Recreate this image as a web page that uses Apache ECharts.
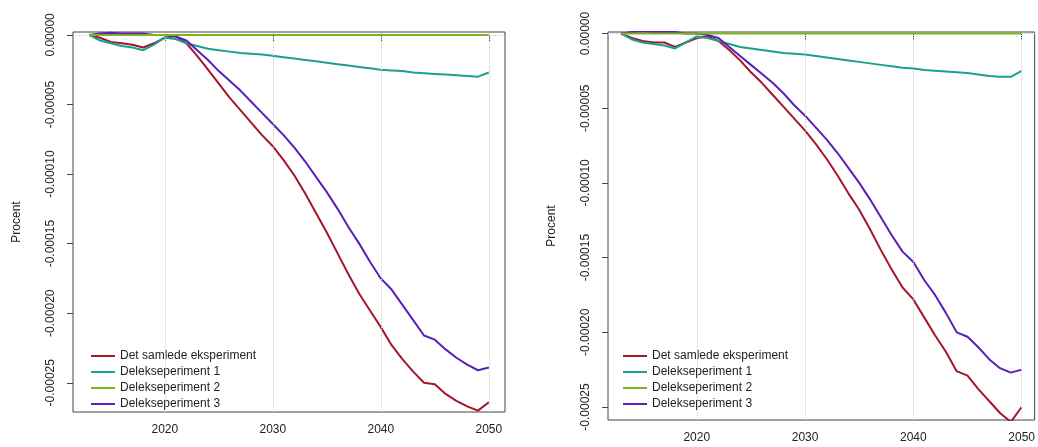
<!DOCTYPE html>
<html><head><meta charset="utf-8">
<script src="https://cdn.jsdelivr.net/npm/echarts@6/dist/echarts.min.js"></script>
<style>html,body{margin:0;padding:0;background:#fff}#c{width:1038px;height:447px}</style>
</head><body><div id="c"></div>
<script>
const years = [];
for (let y = 2013; y <= 2050; y++) years.push(y);
const legendNames = ['Det samlede eksperiment','Delekseperiment 1','Delekseperiment 2','Delekseperiment 3'];
// values in 1e-5 percent
const leftTotal = [0,-0.2,-0.5,-0.6,-0.7,-0.9,-0.6,-0.2,-0.1,-0.6,-1.5,-2.5,-3.5,-4.5,-5.4,-6.3,-7.2,-8.0,-9.0,-10.1,-11.4,-12.8,-14.2,-15.7,-17.2,-18.6,-19.8,-21.0,-22.3,-23.3,-24.2,-25.0,-25.1,-25.8,-26.3,-26.7,-27.0,-26.4];
const leftD1 = [0,-0.4,-0.6,-0.8,-0.9,-1.1,-0.7,-0.2,-0.3,-0.6,-0.8,-1.0,-1.1,-1.2,-1.3,-1.35,-1.4,-1.5,-1.6,-1.7,-1.8,-1.9,-2.0,-2.1,-2.2,-2.3,-2.4,-2.5,-2.55,-2.6,-2.7,-2.75,-2.8,-2.85,-2.9,-2.95,-3.0,-2.7];
const leftD2 = [0,0,0,0,0,0,0,0,0,0,0,0,0,0,0,0,0,0,0,0,0,0,0,0,0,0,0,0,0,0,0,0,0,0,0,0,0,0];
const leftD3 = [0,0.1,0.15,0.1,0.1,0.1,0,0,-0.1,-0.4,-1.1,-1.8,-2.6,-3.3,-4.0,-4.8,-5.6,-6.4,-7.2,-8.1,-9.1,-10.2,-11.3,-12.5,-13.8,-15.0,-16.3,-17.5,-18.3,-19.4,-20.5,-21.6,-21.9,-22.6,-23.2,-23.7,-24.1,-23.9];
const rightTotal = [0,-0.3,-0.5,-0.6,-0.6,-0.9,-0.6,-0.3,-0.2,-0.5,-1.1,-1.8,-2.6,-3.3,-4.1,-4.9,-5.7,-6.5,-7.4,-8.4,-9.5,-10.7,-11.8,-13.1,-14.5,-15.8,-17.0,-17.8,-19.0,-20.2,-21.3,-22.6,-22.9,-23.8,-24.6,-25.4,-26.0,-25.0];
const rightD1 = [0,-0.4,-0.6,-0.7,-0.8,-1.0,-0.6,-0.2,-0.3,-0.5,-0.7,-0.9,-1.0,-1.1,-1.2,-1.3,-1.35,-1.4,-1.5,-1.6,-1.7,-1.8,-1.9,-2.0,-2.1,-2.2,-2.3,-2.35,-2.45,-2.5,-2.55,-2.6,-2.65,-2.75,-2.85,-2.9,-2.9,-2.5];
const rightD2 = [0,0,0,0,0,0,0,0,0,0,0,0,0,0,0,0,0,0,0,0,0,0,0,0,0,0,0,0,0,0,0,0,0,0,0,0,0,0];
const rightD3 = [0,0.1,0.15,0.1,0.1,0.1,0,0,-0.1,-0.3,-0.9,-1.5,-2.1,-2.7,-3.3,-4.0,-4.8,-5.5,-6.3,-7.1,-8.0,-9.0,-10.0,-11.1,-12.3,-13.5,-14.6,-15.3,-16.5,-17.5,-18.7,-20.0,-20.3,-21.0,-21.8,-22.4,-22.7,-22.5];
const xTicks = [2020,2030,2040,2050];
const yTicks = [0,-0.00005,-0.0001,-0.00015,-0.0002,-0.00025];
const colors = ['#a3162b','#1aa08c','#7fb21c','#5a1fb8'];

const panels = [
  {data:[leftTotal,leftD1,leftD2,leftD3], grid:{left:73,top:32,width:432,height:380}, x:[2011.5,2051.5], y:[-0.000271,0.0000021], legendLeft:86},
  {data:[rightTotal,rightD1,rightD2,rightD3], grid:{left:608,top:32,width:427,height:388}, x:[2011.8,2051.2], y:[-0.0002587,0.000001], legendLeft:618}
];
const font = 'Liberation Sans, Arial, sans-serif';
const opt = {animation:false, grid:[], xAxis:[], yAxis:[], series:[], legend:[]};
panels.forEach((p,i)=>{
  opt.grid.push(Object.assign({show:true,borderColor:'#444',borderWidth:1,backgroundColor:'transparent'},p.grid));
  opt.xAxis.push({type:'value',gridIndex:i,min:p.x[0],max:p.x[1],splitLine:{show:false},
    axisLine:{show:false},axisTick:{show:true,length:6,customValues:xTicks,lineStyle:{color:'#444'}},
    axisLabel:{customValues:xTicks,color:'#222',fontFamily:font,fontSize:12,margin:12,formatter:v=>String(v)}});
  opt.yAxis.push({type:'value',gridIndex:i,min:p.y[0],max:p.y[1],splitLine:{show:false},
    axisLine:{show:false},axisTick:{show:true,length:6,customValues:yTicks,lineStyle:{color:'#444'}},
    axisLabel:{customValues:yTicks,rotate:90,color:'#222',fontFamily:font,fontSize:12,margin:16,formatter:v=>Math.abs(v)<1e-12?'0.00000':v.toFixed(5)},
    name:'Procent',nameLocation:'middle',nameGap:50,nameTextStyle:{color:'#222',fontFamily:font,fontSize:12}});
  p.data.forEach((arr,k)=>{
    const s = {type:'line',name:legendNames[k],xAxisIndex:i,yAxisIndex:i,showSymbol:false,
      data:years.map((y,j)=>[y,arr[j]*1e-5]),lineStyle:{width:2,color:colors[k]},itemStyle:{color:colors[k]},z:3+(k===2?5:0)};
    if(k===0){
      s.markLine={silent:true,symbol:'none',label:{show:false},lineStyle:{type:'dotted',color:'#ccc',width:1},
        data:xTicks.map(v=>({xAxis:v})).concat(yTicks.map(v=>({yAxis:v})))};
    }
    opt.series.push(s);
  });
  opt.legend.push({orient:'vertical',left:p.legendLeft,top:345,itemGap:4,itemWidth:24,itemHeight:2,icon:'rect',
    textStyle:{fontFamily:font,fontSize:12,color:'#222'},
    data:legendNames.map(n=>({name:n}))});
});
const chart = echarts.init(document.getElementById('c'));
chart.setOption(opt);
</script></body></html>
